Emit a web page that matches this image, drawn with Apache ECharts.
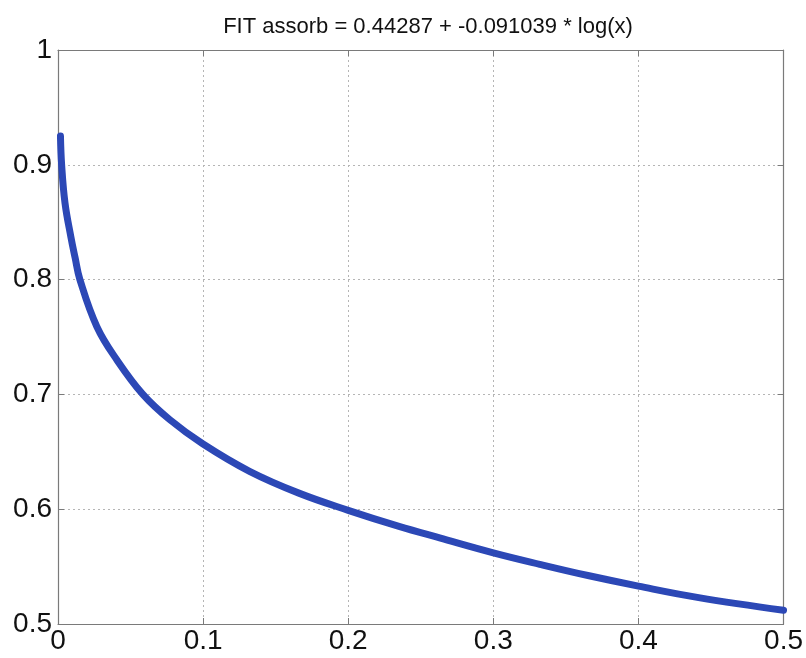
<!DOCTYPE html>
<html>
<head>
<meta charset="utf-8">
<script src="https://cdn.jsdelivr.net/npm/echarts@6/dist/echarts.min.js"></script>
<style>
  html, body { margin: 0; padding: 0; background: #ffffff; }
  #chart { width: 806px; height: 658px; }
</style>
</head>
<body>
<div id="chart"></div>
<script>
// values
const titleText = 'FIT assorb = 0.44287 + -0.091039 * log(x)'
const xValues = [0.0017, 0.0025, 0.0048, 0.0089, 0.0118, 0.0151, 0.0268, 0.0406, 0.0585, 0.077, 0.0997,
  0.132, 0.166, 0.2, 0.235, 0.263, 0.3, 0.332, 0.366, 0.4, 0.4415, 0.5]
const yValues = [0.925, 0.900, 0.867, 0.837, 0.819, 0.800, 0.759, 0.730, 0.700, 0.678, 0.657,
  0.633, 0.614, 0.599, 0.585, 0.575, 0.562, 0.552, 0.542, 0.533, 0.523, 0.512]
const xTicks = [0, 0.1, 0.2, 0.3, 0.4, 0.5]
const yTicks = [0.5, 0.6, 0.7, 0.8, 0.9, 1]

const myChart = echarts.init(document.getElementById('chart'))

const labelFont = {
  fontFamily: 'Liberation Sans, Arial, sans-serif',
  fontSize: 28,
  color: '#111'
}
const boxLine = { show: true, onZero: false, lineStyle: { color: '#7a7a7a', width: 1.2 } }
const inTick = { show: true, inside: true, length: 6, lineStyle: { color: '#7a7a7a' } }
const dotted = { show: true, lineStyle: { color: '#b5b5b5', type: [2, 3], width: 1 } }

const fmt = function (v) {
  return String(Math.round(v * 10) / 10)
}

const option = {
  animation: false,
  title: {
    text: titleText,
    left: 423,
    top: 11,
    textAlign: 'center',
    textStyle: {
      fontFamily: 'Liberation Sans, Arial, sans-serif',
      fontSize: 22,
      fontWeight: 'normal',
      color: '#111'
    }
  },
  grid: { left: 58, right: 21, top: 50, bottom: 34 },
  xAxis: [
    {
      type: 'value',
      min: xTicks[0],
      max: xTicks[xTicks.length - 1],
      interval: 0.1,
      axisLine: boxLine,
      axisTick: inTick,
      splitLine: dotted,
      axisLabel: Object.assign({ margin: 3, formatter: fmt }, labelFont)
    },
    {
      type: 'value',
      position: 'top',
      min: xTicks[0],
      max: xTicks[xTicks.length - 1],
      interval: 0.1,
      axisLine: boxLine,
      axisTick: inTick,
      splitLine: { show: false },
      axisLabel: { show: false }
    }
  ],
  yAxis: [
    {
      type: 'value',
      min: yTicks[0],
      max: yTicks[yTicks.length - 1],
      interval: 0.1,
      axisLine: boxLine,
      axisTick: inTick,
      splitLine: dotted,
      axisLabel: Object.assign({ margin: 6, formatter: fmt }, labelFont)
    },
    {
      type: 'value',
      position: 'right',
      min: yTicks[0],
      max: yTicks[yTicks.length - 1],
      interval: 0.1,
      axisLine: boxLine,
      axisTick: inTick,
      splitLine: { show: false },
      axisLabel: { show: false }
    }
  ],
  series: [
    {
      type: 'line',
      data: xValues.map((x, i) => [x, yValues[i]]),
      smooth: 0.4,
      showSymbol: false,
      lineStyle: { color: '#2c48b6', width: 7, cap: 'round' },
      z: 5
    }
  ]
}

myChart.setOption(option)
</script>
</body>
</html>
